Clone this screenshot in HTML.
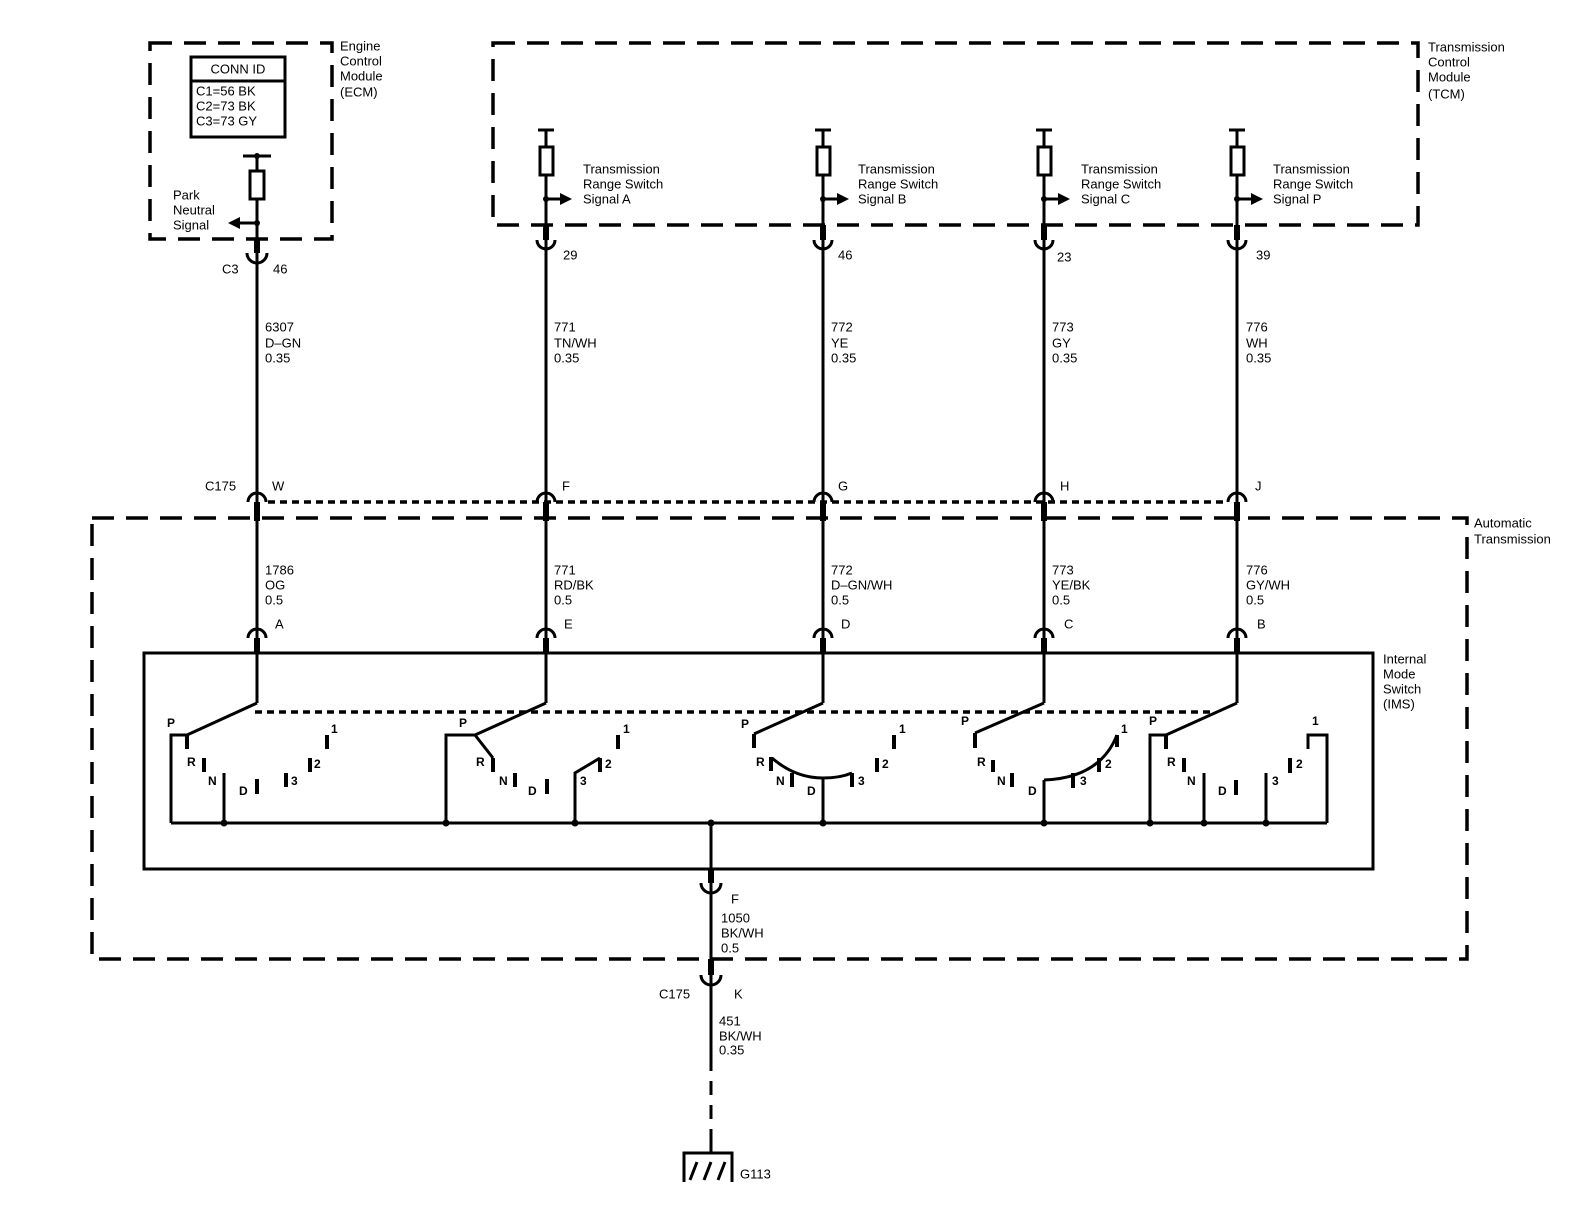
<!DOCTYPE html>
<html><head><meta charset="utf-8">
<style>
html,body{margin:0;padding:0;background:#fff;}
svg{display:block;}
text{font-family:"Liberation Sans",Arial,sans-serif;font-size:13px;fill:#000;dominant-baseline:middle;}
.s{font-size:12px;font-weight:bold;}
.w{stroke:#000;stroke-width:3;fill:none;}
.t{stroke:#000;stroke-width:6;fill:none;}
.d{stroke:#000;stroke-width:3.5;fill:none;stroke-dasharray:22 12;}
.dot{stroke:#000;stroke-width:3.5;fill:none;stroke-dasharray:7 5;}
.b{stroke:#000;stroke-width:4;fill:none;}
</style></head>
<body>
<svg width="1594" height="1216" viewBox="0 0 1594 1216" xmlns="http://www.w3.org/2000/svg">
<!-- boxes -->
<rect class="d" x="150" y="43" width="182" height="196"/>
<rect class="d" x="493" y="43" width="925" height="182"/>
<rect class="d" x="92" y="518" width="1375" height="441"/>
<rect class="w" x="144" y="653" width="1229" height="216"/>
<!-- ECM labels -->
<text x="340" y="47">Engine</text><text x="340" y="62">Control</text><text x="340" y="77">Module</text><text x="340" y="93">(ECM)</text>
<rect class="w" x="191" y="57" width="94" height="80"/>
<line class="w" x1="191" y1="81" x2="285" y2="81"/>
<text x="238" y="70" text-anchor="middle">CONN ID</text>
<text x="196" y="92">C1=56 BK</text><text x="196" y="107">C2=73 BK</text><text x="196" y="122">C3=73 GY</text>
<text x="1428" y="48">Transmission</text><text x="1428" y="63">Control</text><text x="1428" y="78">Module</text><text x="1428" y="95">(TCM)</text>
<text x="1474" y="524">Automatic</text><text x="1474" y="540">Transmission</text>
<text x="1383" y="660">Internal</text><text x="1383" y="675">Mode</text><text x="1383" y="690">Switch</text><text x="1383" y="705">(IMS)</text>

<!-- ECM wire -->
<line class="w" x1="243" y1="156" x2="271" y2="156"/>
<circle cx="257" cy="156" r="3"/>
<line class="w" x1="257" y1="156" x2="257" y2="502"/>
<rect x="250" y="171" width="14" height="28" fill="#fff" stroke="#000" stroke-width="3"/>
<circle cx="257" cy="223" r="3"/>
<line class="w" x1="257" y1="223" x2="238" y2="223"/>
<polygon points="228,223 240,217 240,229"/>
<text x="173" y="196">Park</text><text x="173" y="211">Neutral</text><text x="173" y="226">Signal</text>
<line class="t" x1="257" y1="238" x2="257" y2="253"/>
<path class="w" d="M247 253 A10 10 0 0 0 267 253"/>
<text x="222" y="270">C3</text><text x="273" y="270">46</text>
<text x="265" y="328">6307</text><text x="265" y="344">D&#8211;GN</text><text x="265" y="359">0.35</text>

<!-- TCM wires -->
<g id="tcmA">
<line class="w" x1="538" y1="130" x2="554" y2="130"/>
<line class="w" x1="546" y1="130" x2="546" y2="502"/>
<rect x="540" y="147" width="13" height="28" fill="#fff" stroke="#000" stroke-width="3"/>
<circle cx="546" cy="199" r="3"/>
<line class="w" x1="546" y1="199" x2="562" y2="199"/>
<polygon points="572,199 560,193 560,205"/>
<line class="t" x1="546" y1="225" x2="546" y2="240"/>
<path class="w" d="M537 240 A9 9 0 0 0 555 240"/>
</g>
<use href="#tcmA" x="277"/>
<use href="#tcmA" x="498"/>
<use href="#tcmA" x="691"/>
<text x="583" y="170">Transmission</text><text x="583" y="185">Range Switch</text><text x="583" y="200">Signal A</text>
<text x="858" y="170">Transmission</text><text x="858" y="185">Range Switch</text><text x="858" y="200">Signal B</text>
<text x="1081" y="170">Transmission</text><text x="1081" y="185">Range Switch</text><text x="1081" y="200">Signal C</text>
<text x="1273" y="170">Transmission</text><text x="1273" y="185">Range Switch</text><text x="1273" y="200">Signal P</text>
<text x="563" y="256">29</text><text x="838" y="256">46</text><text x="1057" y="258">23</text><text x="1256" y="256">39</text>
<text x="554" y="328">771</text><text x="554" y="344">TN/WH</text><text x="554" y="359">0.35</text>
<text x="831" y="328">772</text><text x="831" y="344">YE</text><text x="831" y="359">0.35</text>
<text x="1052" y="328">773</text><text x="1052" y="344">GY</text><text x="1052" y="359">0.35</text>
<text x="1246" y="328">776</text><text x="1246" y="344">WH</text><text x="1246" y="359">0.35</text>

<!-- C175 -->
<line class="dot" x1="268" y1="502" x2="1228" y2="502"/>
<g id="c175">
<path class="w" d="M248 502 A9 9 0 0 1 266 502"/>
<line class="t" x1="257" y1="502" x2="257" y2="521"/>
<line class="w" x1="257" y1="520" x2="257" y2="638"/>
<path class="w" d="M248 638 A9 9 0 0 1 266 638"/>
<line class="t" x1="257" y1="638" x2="257" y2="654"/>
<line class="w" x1="257" y1="653" x2="257" y2="703"/>
</g>
<use href="#c175" x="289"/>
<use href="#c175" x="566"/>
<use href="#c175" x="787"/>
<use href="#c175" x="980"/>
<text x="205" y="487">C175</text>
<text x="272" y="487">W</text><text x="562" y="487">F</text><text x="838" y="487">G</text><text x="1060" y="487">H</text><text x="1255" y="487">J</text>
<text x="265" y="571">1786</text><text x="265" y="586">OG</text><text x="265" y="601">0.5</text>
<text x="554" y="571">771</text><text x="554" y="586">RD/BK</text><text x="554" y="601">0.5</text>
<text x="831" y="571">772</text><text x="831" y="586">D&#8211;GN/WH</text><text x="831" y="601">0.5</text>
<text x="1052" y="571">773</text><text x="1052" y="586">YE/BK</text><text x="1052" y="601">0.5</text>
<text x="1246" y="571">776</text><text x="1246" y="586">GY/WH</text><text x="1246" y="601">0.5</text>
<text x="275" y="625">A</text><text x="564" y="625">E</text><text x="841" y="625">D</text><text x="1064" y="625">C</text><text x="1257" y="625">B</text>

<!-- IMS internals -->
<line class="dot" x1="255" y1="712" x2="1215" y2="712"/>
<line class="w" x1="171" y1="823" x2="1327" y2="823"/>
<!-- switch A -->
<line class="w" x1="257" y1="703" x2="187" y2="735"/>
<polyline class="w" points="171,823 171,735 187,735"/>
<line class="b" x1="187" y1="735" x2="187" y2="749"/>
<line class="b" x1="204" y1="758" x2="204" y2="772"/>
<line class="w" x1="224" y1="773" x2="224" y2="823"/>
<line class="b" x1="257" y1="779" x2="257" y2="794"/>
<line class="b" x1="286" y1="773" x2="286" y2="787"/>
<line class="b" x1="310" y1="758" x2="310" y2="772"/>
<line class="b" x1="327" y1="735" x2="327" y2="749"/>
<text class="s" x="167" y="724">P</text><text class="s" x="187" y="763">R</text><text class="s" x="208" y="782">N</text><text class="s" x="239" y="792">D</text><text class="s" x="291" y="782">3</text><text class="s" x="314" y="765">2</text><text class="s" x="331" y="730">1</text>
<!-- switch E -->
<line class="w" x1="546" y1="703" x2="475" y2="735"/>
<polyline class="w" points="446,823 446,735 475,735 493,758"/>
<line class="b" x1="493" y1="758" x2="493" y2="772"/>
<line class="b" x1="515" y1="773" x2="515" y2="787"/>
<line class="b" x1="547" y1="779" x2="547" y2="794"/>
<polyline class="w" points="575,823 575,773 600,758"/>
<line class="b" x1="600" y1="758" x2="600" y2="772"/>
<line class="b" x1="618" y1="735" x2="618" y2="749"/>
<text class="s" x="459" y="724">P</text><text class="s" x="476" y="763">R</text><text class="s" x="499" y="782">N</text><text class="s" x="528" y="792">D</text><text class="s" x="580" y="782">3</text><text class="s" x="605" y="765">2</text><text class="s" x="623" y="730">1</text>
<!-- switch D -->
<line class="w" x1="823" y1="703" x2="754" y2="734"/>
<line class="b" x1="754" y1="734" x2="754" y2="748"/>
<line class="b" x1="771" y1="757" x2="771" y2="771"/>
<path class="w" d="M772 758 Q795 778 823 778 Q840 778 852 773"/>
<line class="b" x1="852" y1="773" x2="852" y2="787"/>
<line class="b" x1="792" y1="773" x2="792" y2="787"/>
<line class="w" x1="823" y1="778" x2="823" y2="823"/>
<line class="b" x1="877" y1="758" x2="877" y2="772"/>
<line class="b" x1="894" y1="735" x2="894" y2="749"/>
<text class="s" x="741" y="725">P</text><text class="s" x="756" y="763">R</text><text class="s" x="776" y="782">N</text><text class="s" x="807" y="792">D</text><text class="s" x="858" y="782">3</text><text class="s" x="882" y="765">2</text><text class="s" x="899" y="730">1</text>
<!-- switch C -->
<line class="w" x1="1044" y1="703" x2="975" y2="733"/>
<line class="b" x1="975" y1="733" x2="975" y2="748"/>
<line class="b" x1="993" y1="760" x2="993" y2="772"/>
<line class="b" x1="1012" y1="773" x2="1012" y2="787"/>
<polyline class="w" points="1044,823 1044,780"/>
<path class="w" d="M1044 780 Q1100 778 1117 735"/>
<line class="b" x1="1073" y1="773" x2="1073" y2="788"/>
<line class="b" x1="1099" y1="758" x2="1099" y2="772"/>
<line class="b" x1="1117" y1="735" x2="1117" y2="747"/>
<text class="s" x="961" y="722">P</text><text class="s" x="977" y="763">R</text><text class="s" x="997" y="782">N</text><text class="s" x="1028" y="792">D</text><text class="s" x="1080" y="782">3</text><text class="s" x="1105" y="765">2</text><text class="s" x="1121" y="730">1</text>
<!-- switch B -->
<line class="w" x1="1237" y1="703" x2="1166" y2="735"/>
<polyline class="w" points="1150,823 1150,735 1166,735"/>
<line class="b" x1="1166" y1="735" x2="1166" y2="749"/>
<line class="b" x1="1184" y1="758" x2="1184" y2="772"/>
<line class="w" x1="1204" y1="773" x2="1204" y2="823"/>
<line class="b" x1="1236" y1="780" x2="1236" y2="795"/>
<line class="w" x1="1266" y1="773" x2="1266" y2="823"/>
<line class="b" x1="1290" y1="758" x2="1290" y2="773"/>
<polyline class="w" points="1308,749 1308,735 1327,735 1327,823"/>
<text class="s" x="1149" y="722">P</text><text class="s" x="1167" y="763">R</text><text class="s" x="1187" y="782">N</text><text class="s" x="1218" y="792">D</text><text class="s" x="1272" y="782">3</text><text class="s" x="1296" y="765">2</text><text class="s" x="1312" y="722">1</text>
<!-- dots -->
<g fill="#000">
<circle cx="224" cy="823" r="3.5"/><circle cx="446" cy="823" r="3.5"/><circle cx="575" cy="823" r="3.5"/>
<circle cx="711" cy="823" r="3.5"/><circle cx="823" cy="823" r="3.5"/><circle cx="1044" cy="823" r="3.5"/>
<circle cx="1150" cy="823" r="3.5"/><circle cx="1204" cy="823" r="3.5"/><circle cx="1266" cy="823" r="3.5"/>
</g>
<!-- ground wire -->
<line class="w" x1="711" y1="823" x2="711" y2="868"/>
<line class="t" x1="711" y1="868" x2="711" y2="883"/>
<path class="w" d="M701 883 A10 10 0 0 0 721 883"/>
<line class="w" x1="711" y1="883" x2="711" y2="959"/>
<text x="731" y="900">F</text>
<text x="721" y="919">1050</text><text x="721" y="934">BK/WH</text><text x="721" y="949">0.5</text>
<line class="t" x1="711" y1="959" x2="711" y2="975"/>
<path class="w" d="M701 975 A10 10 0 0 0 721 975"/>
<line class="w" x1="711" y1="975" x2="711" y2="1057"/>
<text x="659" y="995">C175</text><text x="734" y="995">K</text>
<text x="719" y="1022">451</text><text x="719" y="1037">BK/WH</text><text x="719" y="1051">0.35</text>
<line x1="711" y1="1057" x2="711" y2="1153" stroke="#000" stroke-width="3" stroke-dasharray="14 10"/>
<polyline class="w" points="684,1182 684,1153 732,1153 732,1182"/>
<line class="w" x1="711" y1="1141" x2="711" y2="1153"/>
<line class="w" x1="697" y1="1162" x2="690" y2="1180"/>
<line class="w" x1="711" y1="1162" x2="704" y2="1180"/>
<line class="w" x1="725" y1="1162" x2="718" y2="1180"/>
<text x="740" y="1175">G113</text>
</svg>
</body></html>
